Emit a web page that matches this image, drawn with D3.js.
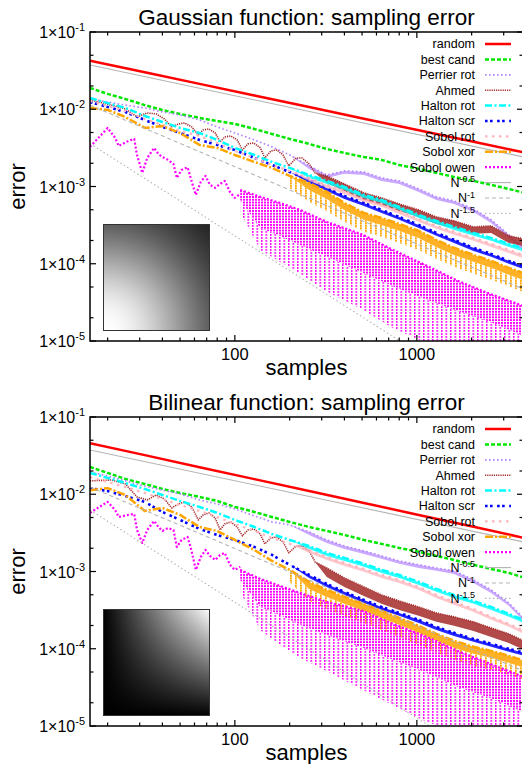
<!DOCTYPE html>
<html>
<head>
<meta charset="utf-8">
<title>Sampling error</title>
<script src="https://cdn.jsdelivr.net/npm/d3@7/dist/d3.min.js"></script>
<style>
  html, body { margin: 0; padding: 0; background: #fff; }
  svg { display: block; font-family: "Liberation Sans", Arial, Helvetica, sans-serif; }
</style>
</head>
<body>
<svg id="chart" width="522" height="764"></svg>
<script>
// ---------- sample counts ----------
const samples = [16, 20, 25, 32, 40, 50, 64, 80, 100, 128, 160, 200, 256, 320, 400, 512, 640, 800, 1024, 1280, 1600, 2048, 2560, 3200, 4096];
// tail where an estimator scatters into a band: curve on top, floor below
const jitterSamples = [200, 256, 320, 400, 512, 640, 800, 1024, 1280, 1600, 2048, 2560, 3200, 4096];
const randomSamples = [16, 32, 64, 128, 256, 512, 1024, 2048, 4096];
const ahmedSamples = [16, 21, 25, 29, 33, 37, 41, 45, 49, 53, 58, 63, 67, 72, 78, 83, 88, 95, 103, 110, 118, 127, 138, 146, 158, 170, 184, 198, 217, 234, 256, 276,
  320, 400, 512, 640, 800, 1024, 1280, 1600, 2048, 2560, 3200, 4096];
const ahmedJitterSamples = [276, 320, 400, 512, 640, 800, 1024, 1280, 1600, 2048, 2560, 3200, 4096];
const owenSamples = [16, 18, 20, 22, 23, 26, 28, 29, 31, 33, 36, 38, 40, 43, 46, 48, 51, 55, 58, 61, 65, 69, 73, 78, 83, 88, 94, 100, 107];
const owenBandSamples = [107, 138, 177, 228, 321, 506, 740, 1137, 1726, 2523, 4096];
const refSamples = [16, 4096];

// ---------- Gaussian integrand ----------
const gaussRandom = [0.0425, 0.0301, 0.0213, 0.0151, 0.0107, 0.00755, 0.00535, 0.00379, 0.00268];
const gaussBestCand = [0.0189, 0.0158, 0.0136, 0.0113, 0.00979, 0.00869, 0.00772, 0.00706, 0.00645, 0.00556, 0.00479, 0.00413, 0.00356, 0.00306, 0.00272, 0.00241, 0.00221, 0.00190, 0.00169, 0.00150, 0.00133, 0.00118, 0.00105, 0.00093, 0.000802];
const gaussPerrier = [0.0136, 0.0124, 0.0113, 0.0104, 0.00923, 0.00844, 0.00727, 0.00590, 0.00493, 0.00401, 0.00326, 0.00256, 0.00185, 0.00141, 0.00159, 0.00154, 0.00129, 0.00118, 0.00093, 0.000734, 0.000651, 0.000513, 0.000370, 0.000237, 0.000142];
const gaussPerrierFloor = [0.00256, 0.00169, 0.00129, 0.00146, 0.00141, 0.00118, 0.00108, 0.000851, 0.000671, 0.000595, 0.000469, 0.000338, 0.000216, 0.000130];
const gaussAhmed = [0.0132, 0.0113, 0.0101, 0.00795, 0.00896, 0.00869, 0.00749, 0.00590, 0.00645, 0.00665, 0.00590, 0.00465, 0.00540, 0.00556, 0.00493, 0.00377, 0.00438, 0.00451, 0.00401, 0.00297, 0.00356, 0.00366, 0.00316, 0.00234, 0.00289, 0.00297, 0.00256, 0.00185, 0.00234, 0.00234, 0.00196, 0.00150,
  0.00137, 0.00108, 0.000826, 0.000712, 0.000595, 0.000498, 0.000404, 0.000359, 0.000300, 0.000309, 0.000230, 0.000204];
const gaussAhmedFloor = [0.00150, 0.00111, 0.000877, 0.000671, 0.000578, 0.000483, 0.000404, 0.000328, 0.000291, 0.000244, 0.000251, 0.000186, 0.000165];
const gaussHaltonRot = [0.0140, 0.0120, 0.0104, 0.00819, 0.00685, 0.00573, 0.00493, 0.00401, 0.00316, 0.00256, 0.00208, 0.00174, 0.00141, 0.00118, 0.000989, 0.000779, 0.000671, 0.000545, 0.000429, 0.000359, 0.000300, 0.000251, 0.000216, 0.000181, 0.000151];
const gaussHaltonRotFloor = [0.00174, 0.00129, 0.00108, 0.000903, 0.000712, 0.000613, 0.000498, 0.000392, 0.000328, 0.000274, 0.000230, 0.000198, 0.000165, 0.000138];
const gaussHaltonScr = [0.0124, 0.0107, 0.00923, 0.00727, 0.00590, 0.00493, 0.00401, 0.00345, 0.00297, 0.00234, 0.00190, 0.00154, 0.00122, 0.000959, 0.000756, 0.000613, 0.000498, 0.000404, 0.000318, 0.000251, 0.000204, 0.000161, 0.000134, 0.000109, 0.0000885];
const gaussHaltonScrFloor = [0.00154, 0.00111, 0.000877, 0.000691, 0.000561, 0.000455, 0.000370, 0.000291, 0.000230, 0.000186, 0.000146, 0.000123, 0.0000997, 0.0000810];
const gaussSobolRot = [0.0128, 0.0110, 0.00951, 0.00749, 0.00626, 0.00524, 0.00451, 0.00366, 0.00289, 0.00234, 0.00190, 0.00159, 0.00129, 0.00105, 0.000877, 0.000691, 0.000595, 0.000483, 0.000381, 0.000309, 0.000259, 0.000216, 0.000181, 0.000151, 0.000123];
const gaussSobolRotFloor = [0.00159, 0.00118, 0.000959, 0.000802, 0.000632, 0.000545, 0.000442, 0.000348, 0.000283, 0.000237, 0.000198, 0.000165, 0.000138, 0.000112];
const gaussSobolXor = [0.0104, 0.00979, 0.00795, 0.00573, 0.00608, 0.00493, 0.00345, 0.00316, 0.00256, 0.00208, 0.00174, 0.00137, 0.00111, 0.000851, 0.000613, 0.000455, 0.000392, 0.000328, 0.000267, 0.000204, 0.000161, 0.000130, 0.000109, 0.0000885, 0.0000720];
const gaussSobolXorFloor = [0.00137, 0.000903, 0.000691, 0.000498, 0.000370, 0.000318, 0.000267, 0.000216, 0.000165, 0.000130, 0.000106, 0.0000885, 0.0000720, 0.0000583];
// deepest dips of the xor-scrambled curve below its band
const gaussSobolXorDips = [0.000959, 0.000632, 0.000483, 0.000348, 0.000259, 0.000223, 0.000186, 0.000151, 0.000116, 0.0000912, 0.0000741, 0.0000619, 0.0000510, 0.0000408];
const gaussOwen = [0.00326, 0.00438, 0.00573, 0.00425, 0.00335, 0.00389, 0.00413, 0.00256, 0.00150, 0.00234, 0.00316, 0.00264, 0.00241, 0.00221, 0.00196, 0.00129, 0.00164, 0.00177, 0.00115, 0.000779, 0.00115, 0.00137, 0.00105, 0.000959, 0.00108, 0.00118, 0.000851, 0.000712, 0.000802];
const gaussOwenHigh = [0.000903, 0.000734, 0.000613, 0.000498, 0.000348, 0.000237, 0.000151, 0.0000939, 0.0000583, 0.0000408, 0.0000269];
const gaussOwenDense = [0.000671, 0.000291, 0.000230, 0.000175, 0.000123, 0.0000765, 0.0000510, 0.0000341, 0.0000239, 0.0000177, 0.0000110];
const gaussOwenFloor = [0.000469, 0.000151, 0.000106, 0.0000745, 0.0000433, 0.0000254, 0.0000146, 0.0000093, 0.000008, 0.000008, 0.000008];
const gaussRefHalf = [0.0374, 0.00234];
const gaussRefOne = [0.0113, 0.0000441];
const gaussRefOneHalf = [0.00359, 0.000000876];

// ---------- bilinear integrand ----------
const bilinRandom = [0.0457, 0.0321, 0.0224, 0.0157, 0.0110, 0.00772, 0.00540, 0.00379, 0.00265];
const bilinBestCand = [0.0225, 0.0189, 0.0158, 0.0136, 0.0117, 0.0104, 0.00923, 0.00819, 0.00685, 0.00590, 0.00508, 0.00438, 0.00377, 0.00335, 0.00297, 0.00256, 0.00228, 0.00202, 0.00180, 0.00159, 0.00141, 0.00122, 0.00108, 0.000959, 0.000802];
const bilinPerrier = [0.0194, 0.0173, 0.0149, 0.0128, 0.0113, 0.0101, 0.00844, 0.00749, 0.00645, 0.00524, 0.00438, 0.00401, 0.00326, 0.00256, 0.00214, 0.00185, 0.00159, 0.00137, 0.00122, 0.00111, 0.00102, 0.000779, 0.000578, 0.000392, 0.000216];
const bilinPerrierFloor = [0.00401, 0.00297, 0.00234, 0.00196, 0.00169, 0.00146, 0.00126, 0.00111, 0.00102, 0.000931, 0.000712, 0.000528, 0.000359, 0.000198];
const bilinAhmed = [0.0149, 0.0153, 0.0136, 0.00923, 0.00844, 0.00979, 0.00869, 0.00665, 0.00749, 0.00795, 0.00685, 0.00465, 0.00540, 0.00573, 0.00493, 0.00345, 0.00413, 0.00438, 0.00377, 0.00289, 0.00345, 0.00356, 0.00306, 0.00228, 0.00272, 0.00280, 0.00241, 0.00174, 0.00214, 0.00214, 0.00185, 0.00133,
  0.00111, 0.000826, 0.000632, 0.000498, 0.000416, 0.000348, 0.000291, 0.000259, 0.000223, 0.000186, 0.000156, 0.000119];
const bilinAhmedFloor = [0.00133, 0.000851, 0.000632, 0.000483, 0.000381, 0.000318, 0.000267, 0.000223, 0.000198, 0.000170, 0.000142, 0.000119, 0.0000912];
const bilinHaltonRot = [0.0189, 0.0163, 0.0140, 0.0117, 0.00979, 0.00819, 0.00685, 0.00573, 0.00465, 0.00377, 0.00306, 0.00256, 0.00214, 0.00174, 0.00150, 0.00126, 0.00105, 0.000903, 0.000734, 0.000595, 0.000498, 0.000416, 0.000348, 0.000283, 0.000223];
const bilinHaltonRotFloor = [0.00256, 0.00196, 0.00159, 0.00137, 0.00115, 0.000959, 0.000826, 0.000671, 0.000545, 0.000455, 0.000381, 0.000318, 0.000259, 0.000204];
const bilinHaltonScr = [0.0120, 0.0110, 0.00951, 0.00795, 0.00590, 0.00465, 0.00356, 0.00297, 0.00256, 0.00208, 0.00164, 0.00122, 0.000903, 0.000691, 0.000545, 0.000429, 0.000348, 0.000291, 0.000237, 0.000192, 0.000161, 0.000134, 0.000116, 0.0000997, 0.0000860];
const bilinHaltonScrFloor = [0.00122, 0.000826, 0.000632, 0.000498, 0.000392, 0.000318, 0.000267, 0.000216, 0.000175, 0.000146, 0.000123, 0.000106, 0.0000912, 0.0000786];
const bilinSobolRot = [0.0167, 0.0144, 0.0124, 0.0104, 0.00869, 0.00727, 0.00608, 0.00508, 0.00413, 0.00335, 0.00272, 0.00228, 0.00190, 0.00154, 0.00129, 0.00108, 0.000903, 0.000779, 0.000632, 0.000498, 0.000404, 0.000328, 0.000259, 0.000210, 0.000161];
const bilinSobolRotFloor = [0.00228, 0.00174, 0.00141, 0.00118, 0.000989, 0.000826, 0.000712, 0.000578, 0.000455, 0.000370, 0.000300, 0.000237, 0.000192, 0.000146];
const bilinSobolXor = [0.0113, 0.0120, 0.00979, 0.00608, 0.00665, 0.00540, 0.00377, 0.00335, 0.00256, 0.00190, 0.00137, 0.00105, 0.000734, 0.000578, 0.000469, 0.000381, 0.000309, 0.000251, 0.000198, 0.000156, 0.000127, 0.000106, 0.0000939, 0.0000810, 0.0000676];
const bilinSobolXorFloor = [0.00105, 0.000595, 0.000469, 0.000381, 0.000309, 0.000251, 0.000204, 0.000161, 0.000127, 0.000103, 0.0000860, 0.0000765, 0.0000658, 0.0000549];
const bilinSobolXorDips = [0.000734, 0.000416, 0.000328, 0.000267, 0.000216, 0.000175, 0.000142, 0.000112, 0.0000885, 0.0000720, 0.0000600, 0.0000533, 0.0000460, 0.0000384];
const bilinOwen = [0.00573, 0.00685, 0.00795, 0.00626, 0.00508, 0.00540, 0.00556, 0.00345, 0.00234, 0.00345, 0.00451, 0.00377, 0.00335, 0.00366, 0.00345, 0.00208, 0.00256, 0.00280, 0.00180, 0.00105, 0.00154, 0.00190, 0.00159, 0.00141, 0.00164, 0.00174, 0.00122, 0.00105, 0.00115];
const bilinOwenHigh = [0.00105, 0.000802, 0.000651, 0.000528, 0.000404, 0.000309, 0.000210, 0.000142, 0.0000912, 0.0000640, 0.0000408];
const bilinOwenDense = [0.000779, 0.000348, 0.000274, 0.000204, 0.000151, 0.000103, 0.0000720, 0.0000488, 0.0000313, 0.0000232, 0.0000142];
const bilinOwenFloor = [0.000545, 0.000175, 0.000112, 0.0000765, 0.0000510, 0.0000292, 0.0000186, 0.0000113, 0.000008, 0.000008, 0.000008];
const bilinRefHalf = [0.0374, 0.00234];
const bilinRefOne = [0.0124, 0.0000484];
const bilinRefOneHalf = [0.00626, 0.00000153];

// ---------- axes ----------
const xMajorTicks = [100, 1000];
const xTickLabels = ['100', '1000'];
const xMinorTicks = [20, 30, 40, 50, 60, 70, 80, 90, 200, 300, 400, 500, 600, 700, 800, 900, 2000, 3000, 4000];
const yMajorTicks = [1e-1, 1e-2, 1e-3, 1e-4, 1e-5];
const yTickExponents = ['-1', '-2', '-3', '-4', '-5'];
const yMinorTicks = [5e-2, 2e-2, 5e-3, 2e-3, 5e-4, 2e-4, 5e-5, 2e-5];

// ---------- series styles, in key order ----------
const seriesStyles = [
  { key: 'random',     label: 'random',      color: '#ff0000', width: 2.5, dash: null },
  { key: 'bestCand',   label: 'best cand',   color: '#00e600', width: 2.5, dash: '4,2' },
  { key: 'perrier',    label: 'Perrier rot', color: '#b384ff', width: 1.7, dash: '1.6,2.4', bandOpacity: 0.7 },
  { key: 'ahmed',      label: 'Ahmed',       color: '#a52a2a', width: 1.6, dash: '1.2,1', bandOpacity: 0.85 },
  { key: 'haltonRot',  label: 'Halton rot',  color: '#00ffff', width: 2.5, dash: '7,2.5,2,2.5', bandOpacity: 0.8 },
  { key: 'haltonScr',  label: 'Halton scr',  color: '#0000ff', width: 2.6, dash: '2.6,2.4,2.6,4.5', bandOpacity: 0.85 },
  { key: 'sobolRot',   label: 'Sobol rot',   color: '#ffb4bc', width: 2.2, dash: '2.5,4.5', bandOpacity: 0.75 },
  { key: 'sobolXor',   label: 'Sobol xor',   color: '#ffa500', width: 2.5, dash: '8,2,2,2', bandOpacity: 0.85 },
  { key: 'sobolOwen',  label: 'Sobol owen',  color: '#ff00ff', width: 2.2, dash: '2,2' },
  { key: 'refHalf',    label: 'N', sup: '-0.5', color: '#b4b4b4', width: 1.1, dash: null },
  { key: 'refOne',     label: 'N', sup: '-1',   color: '#b4b4b4', width: 1.1, dash: '4,3' },
  { key: 'refOneHalf', label: 'N', sup: '-1.5', color: '#b4b4b4', width: 1.1, dash: '1.5,2.5' }
];

const panels = [
  {
    title: 'Gaussian function: sampling error',
    top: 32,
    shade: (u, v) => Math.exp(-(u * u + v * v)),
    series: {
      random: { n: randomSamples, v: gaussRandom },
      bestCand: { n: samples, v: gaussBestCand },
      perrier: { n: samples, v: gaussPerrier, floorN: jitterSamples, floor: gaussPerrierFloor },
      ahmed: { n: ahmedSamples, v: gaussAhmed, floorN: ahmedJitterSamples, floor: gaussAhmedFloor },
      haltonRot: { n: samples, v: gaussHaltonRot, floorN: jitterSamples, floor: gaussHaltonRotFloor },
      haltonScr: { n: samples, v: gaussHaltonScr, floorN: jitterSamples, floor: gaussHaltonScrFloor },
      sobolRot: { n: samples, v: gaussSobolRot, floorN: jitterSamples, floor: gaussSobolRotFloor },
      sobolXor: { n: samples, v: gaussSobolXor, floorN: jitterSamples, floor: gaussSobolXorFloor, dips: gaussSobolXorDips },
      sobolOwen: { n: owenSamples, v: gaussOwen, bandN: owenBandSamples, high: gaussOwenHigh, dense: gaussOwenDense, low: gaussOwenFloor },
      refHalf: { n: refSamples, v: gaussRefHalf },
      refOne: { n: refSamples, v: gaussRefOne },
      refOneHalf: { n: refSamples, v: gaussRefOneHalf }
    }
  },
  {
    title: 'Bilinear function: sampling error',
    top: 417,
    shade: (u, v) => u * v,
    series: {
      random: { n: randomSamples, v: bilinRandom },
      bestCand: { n: samples, v: bilinBestCand },
      perrier: { n: samples, v: bilinPerrier, floorN: jitterSamples, floor: bilinPerrierFloor },
      ahmed: { n: ahmedSamples, v: bilinAhmed, floorN: ahmedJitterSamples, floor: bilinAhmedFloor },
      haltonRot: { n: samples, v: bilinHaltonRot, floorN: jitterSamples, floor: bilinHaltonRotFloor },
      haltonScr: { n: samples, v: bilinHaltonScr, floorN: jitterSamples, floor: bilinHaltonScrFloor },
      sobolRot: { n: samples, v: bilinSobolRot, floorN: jitterSamples, floor: bilinSobolRotFloor },
      sobolXor: { n: samples, v: bilinSobolXor, floorN: jitterSamples, floor: bilinSobolXorFloor, dips: bilinSobolXorDips },
      sobolOwen: { n: owenSamples, v: bilinOwen, bandN: owenBandSamples, high: bilinOwenHigh, dense: bilinOwenDense, low: bilinOwenFloor },
      refHalf: { n: refSamples, v: bilinRefHalf },
      refOne: { n: refSamples, v: bilinRefOne },
      refOneHalf: { n: refSamples, v: bilinRefOneHalf }
    }
  }
];

// ---------- layout ----------
const LEFT = 90, RIGHT = 523, PLOT_H = 309, DECADE = 182;
const MAJOR = 6, MINOR = 3.5;
const INSET = { dx: 13, dy: 192, size: 107 };

const svg = d3.select('#chart');
svg.append('rect').attr('width', 522).attr('height', 764).attr('fill', '#fff');
const defs = svg.append('defs');

// dotted textures for densely oscillating curves
function comb(id, color, w, h, rw, rh) {
  defs.append('pattern').attr('id', id).attr('patternUnits', 'userSpaceOnUse')
    .attr('width', w).attr('height', h)
    .append('rect').attr('width', rw).attr('height', rh).attr('fill', color);
}
comb('owenDense', '#ff00ff', 3, 2.8, 2, 1.9);
comb('owenSparse', '#ff00ff', 4.5, 3, 1.5, 1.9);
comb('xorSparse', '#ffa500', 5, 2.5, 1.8, 2);

// grayscale picture of the integrand, drawn into a bitmap
function shadeImage(fn, n) {
  const canvas = document.createElement('canvas');
  canvas.width = n; canvas.height = n;
  const ctx = canvas.getContext('2d');
  const img = ctx.createImageData(n, n);
  for (let j = 0; j < n; j++) {
    for (let i = 0; i < n; i++) {
      const u = (i + 0.5) / n, v = 1 - (j + 0.5) / n;
      const g = Math.round(255 * Math.max(0, Math.min(1, fn(u, v))));
      const k = 4 * (j * n + i);
      img.data[k] = g; img.data[k + 1] = g; img.data[k + 2] = g; img.data[k + 3] = 255;
    }
  }
  ctx.putImageData(img, 0, 0);
  return canvas.toDataURL();
}

function supText(sel, base, sup, supSize, rise) {
  sel.append('tspan').text(base);
  sel.append('tspan').attr('dy', -rise).attr('font-size', supSize).text(sup);
}

panels.forEach((p, pi) => {
  const top = p.top, bottom = top + PLOT_H;
  const x = d3.scaleLog().domain([16, 4096]).range([LEFT, LEFT + DECADE * Math.log10(4096 / 16)]);
  const y = d3.scaleLog().domain([1e-5, 1e-1]).range([bottom, top]);

  const clipId = 'plotClip' + pi;
  defs.append('clipPath').attr('id', clipId)
    .append('rect').attr('x', LEFT).attr('y', top).attr('width', RIGHT - LEFT).attr('height', PLOT_H);

  const g = svg.append('g');
  const plot = g.append('g').attr('clip-path', `url(#${clipId})`);

  const line = d3.line().x(d => x(d.n)).y(d => y(d.v));
  const band = d3.area().x(d => x(d.n)).y0(d => y(d.lo)).y1(d => y(d.hi));

  seriesStyles.forEach(st => {
    const s = p.series[st.key];
    const pts = s.n.map((n, i) => ({ n, v: s.v[i] }));

    if (s.dips) {
      const dipPts = s.floorN.map((n, i) => ({ n, hi: s.floor[i], lo: s.dips[i] }));
      plot.append('path').datum(dipPts).attr('d', band).attr('fill', 'url(#xorSparse)');
    }
    if (s.floor) {
      const bandPts = s.floorN.map((n, i) => ({ n, hi: s.v[s.n.indexOf(n)], lo: s.floor[i] }));
      plot.append('path').datum(bandPts)
        .attr('d', band).attr('fill', st.color).attr('fill-opacity', st.bandOpacity);
    }
    if (s.bandN) {
      const densePts = s.bandN.map((n, i) => ({ n, hi: s.high[i], lo: s.dense[i] }));
      const sparsePts = s.bandN.map((n, i) => ({ n, hi: s.dense[i], lo: s.low[i] }));
      plot.append('path').datum(sparsePts).attr('d', band).attr('fill', 'url(#owenSparse)');
      plot.append('path').datum(densePts).attr('d', band).attr('fill', 'url(#owenDense)');
      plot.append('path').datum(s.bandN.map((n, i) => ({ n, v: s.high[i] })))
        .attr('d', line).attr('fill', 'none').attr('stroke', st.color)
        .attr('stroke-width', st.width).attr('stroke-dasharray', st.dash);
    }
    plot.append('path').datum(pts)
      .attr('d', line)
      .attr('fill', 'none')
      .attr('stroke', st.color)
      .attr('stroke-width', st.width)
      .attr('stroke-dasharray', st.dash)
      .attr('stroke-linejoin', 'round');
  });

  // inset: picture of the integrand
  g.append('image')
    .attr('x', LEFT + INSET.dx).attr('y', top + INSET.dy)
    .attr('width', INSET.size).attr('height', INSET.size)
    .attr('preserveAspectRatio', 'none')
    .attr('href', shadeImage(p.shade, INSET.size));
  g.append('rect')
    .attr('x', LEFT + INSET.dx + 0.5).attr('y', top + INSET.dy + 0.5)
    .attr('width', INSET.size - 1).attr('height', INSET.size - 1)
    .attr('fill', 'none').attr('stroke', '#333').attr('stroke-width', 1);

  // frame and ticks (mirrored on all sides)
  const axis = g.append('g').attr('stroke', '#000').attr('stroke-width', 1.2);
  axis.append('rect').attr('x', LEFT).attr('y', top).attr('width', RIGHT - LEFT).attr('height', PLOT_H)
    .attr('fill', 'none').attr('stroke-width', 1.5);
  const xTick = (v, len) => {
    const px = x(v);
    axis.append('line').attr('x1', px).attr('x2', px).attr('y1', bottom).attr('y2', bottom - len);
    axis.append('line').attr('x1', px).attr('x2', px).attr('y1', top).attr('y2', top + len);
  };
  const yTick = (v, len) => {
    const py = y(v);
    axis.append('line').attr('x1', LEFT).attr('x2', LEFT + len).attr('y1', py).attr('y2', py);
    axis.append('line').attr('x1', RIGHT).attr('x2', RIGHT - len).attr('y1', py).attr('y2', py);
  };
  xMajorTicks.forEach(v => xTick(v, MAJOR));
  xMinorTicks.forEach(v => xTick(v, MINOR));
  yMajorTicks.forEach(v => yTick(v, MAJOR));
  yMinorTicks.forEach(v => yTick(v, MINOR));

  xMajorTicks.forEach((v, i) => {
    g.append('text').attr('x', x(v)).attr('y', bottom + 19)
      .attr('text-anchor', 'middle').attr('font-size', 16.5).attr('fill', '#000')
      .text(xTickLabels[i]);
  });
  yMajorTicks.forEach((v, i) => {
    const t = g.append('text').attr('x', 85).attr('y', y(v) + 6)
      .attr('text-anchor', 'end').attr('font-size', 16).attr('fill', '#000');
    supText(t, '1\u00d710', yTickExponents[i], 11, 7);
  });

  // titles
  g.append('text').attr('x', (LEFT + RIGHT) / 2).attr('y', top - 7)
    .attr('text-anchor', 'middle').attr('font-size', 22.5).attr('fill', '#000').text(p.title);
  g.append('text').attr('x', (LEFT + RIGHT) / 2).attr('y', bottom + 34)
    .attr('text-anchor', 'middle').attr('font-size', 22).attr('fill', '#000').text('samples');
  g.append('text').attr('transform', `translate(25,${top + PLOT_H / 2}) rotate(-90)`)
    .attr('text-anchor', 'middle').attr('font-size', 22).attr('fill', '#000').text('error');

  // key
  const key = g.append('g')
    .attr('font-family', "'Liberation Sans Narrow', 'Liberation Sans', Arial, sans-serif")
    .attr('font-size', 12.5);
  seriesStyles.forEach((st, i) => {
    const ry = top + 12 + 15.4 * i;
    const t = key.append('text').attr('x', 475).attr('y', ry + 4.3)
      .attr('text-anchor', 'end').attr('fill', '#000');
    if (st.sup) supText(t, st.label, st.sup, 9, 4.5);
    else t.text(st.label);
    key.append('line').attr('x1', 485).attr('x2', 511).attr('y1', ry).attr('y2', ry)
      .attr('stroke', st.color).attr('stroke-width', st.width)
      .attr('stroke-dasharray', st.dash);
  });
});
</script>
</body>
</html>
